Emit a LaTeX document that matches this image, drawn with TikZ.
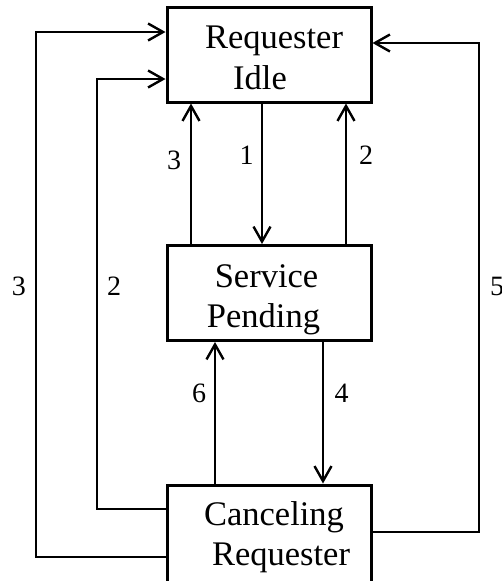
\documentclass[tikz,border=0pt]{standalone}
\usepackage{fontspec}
\setmainfont{Liberation Serif}
\usetikzlibrary{arrows.meta}
\begin{document}
\begin{tikzpicture}[x=1pt,y=-1pt,
  state/.style={draw,line width=3pt,minimum width=204pt,minimum height=95pt,inner sep=0pt},
  txt/.style={anchor=base,inner sep=0pt,font=\fontsize{34.5}{40}\selectfont},
  arr/.style={line width=2.4pt,-{Straight Barb[length=15pt,width=17pt,line width=2.4pt]}},
  num/.style={anchor=base,inner sep=0pt,font=\fontsize{28}{30}\selectfont}]
\useasboundingbox (0,0) rectangle (501,581);
% state boxes
\node[state] (idle) at (269,54.5) {};
\node[state] (pend) at (269,293) {};
\node[state,minimum height=100pt] (canc) at (269,535) {};
% state names, one node per line
\node[txt] (idle1) at (274,48) {Requester};
\node[txt] (idle2) at (260,89) {Idle};
\node[txt] (pend1) at (266.5,287) {Service};
\node[txt] (pend2) at (263.5,327) {Pending};
\node[txt] (canc1) at (274,525) {Canceling};
\node[txt] (canc2) at (281,565) {Requester};
% transitions between neighbouring states
\draw[arr] (idle.south -| 262,0) -- (pend.north -| 262,0);
\draw[arr] (pend.north -| 191,0) -- (idle.south -| 191,0);
\draw[arr] (pend.north -| 346,0) -- (idle.south -| 346,0);
\draw[arr] (pend.south -| 323,0) -- (canc.north -| 323,0);
\draw[arr] (canc.north -| 215,0) -- (pend.south -| 215,0);
% long loops from the canceling state back to idle
\draw[arr] (canc.west |- 0,557) -| (36,32) -- (idle.west |- 0,32);
\draw[arr] (canc.west |- 0,509) -| (97,79) -- (idle.west |- 0,79);
\draw[arr] (canc.east |- 0,532) -| (479,43) -- (idle.east |- 0,43);
% transition numbers
\node[num] (l1) at (246.5,164) {1};
\node[num] (l2) at (366,164) {2};
\node[num] (l3) at (174,169) {3};
\node[num] (l4) at (341.5,402) {4};
\node[num] (l6) at (199,402) {6};
\node[num] (l3b) at (19,295) {3};
\node[num] (l2b) at (114,295) {2};
\node[num] (l5) at (497,295) {5};
\end{tikzpicture}
\end{document}
